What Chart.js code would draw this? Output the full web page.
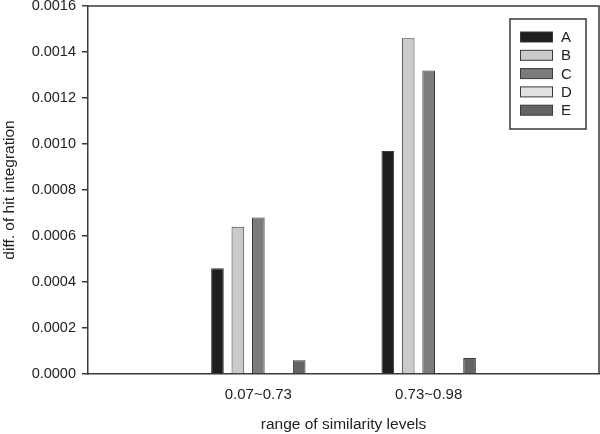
<!DOCTYPE html>
<html>
<head>
<meta charset="utf-8">
<script src="https://cdn.jsdelivr.net/npm/chart.js@4"></script>
<style>
  html, body { margin: 0; padding: 0; background: #fff; }
  #box { width: 600px; height: 434px; }
</style>
</head>
<body>
<div id="box"><canvas id="grafico"></canvas></div>
<script>
// categorias do eixo x (as pontas vazias so servem para abrir espaco)
const categorias = ['', '0.07~0.73', '0.73~0.98', '']
const series = ['A', 'B', 'C', 'D', 'E']
const valoresA = [null, 0.00046, 0.00097, null]
const valoresB = [null, 0.00064, 0.00146, null]
const valoresC = [null, 0.00068, 0.00132, null]
const valoresD = [null, 0, 0, null]
const valoresE = [null, 0.00006, 0.00007, null]
const cores = ['#1f1d1e', '#c8cacc', '#7a7b7d', '#e0e1e2', '#636466']

const corLinha = '#3a3a3a'
const fonte = 'Liberation Sans, Arial, sans-serif'

const todos = [valoresA, valoresB, valoresC, valoresD, valoresE]
const datasets = series.map(function(nome, i) {
    return {
        label: nome,
        data: todos[i],
        backgroundColor: cores[i],
        borderColor: corLinha,
        borderWidth: 1,
        categoryPercentage: 0.6,
        barPercentage: 0.62
    }
})

// moldura de cima e da direita + legenda com caixa
const extras = {
    id: 'extras',
    afterDraw(chart) {
        const ctx = chart.ctx
        const a = chart.chartArea
        ctx.save()
        ctx.strokeStyle = corLinha
        ctx.lineWidth = 1.5
        ctx.beginPath()
        ctx.moveTo(a.left, a.top)
        ctx.lineTo(a.right, a.top)
        ctx.lineTo(a.right, a.bottom)
        ctx.stroke()

        // legenda
        ctx.strokeRect(510, 19, 76, 110)
        ctx.font = '15px ' + fonte
        ctx.textBaseline = 'middle'
        ctx.textAlign = 'left'
        series.forEach(function(nome, i) {
            const y = 37 + i * 18.3
            ctx.fillStyle = cores[i]
            ctx.fillRect(520, y - 5, 33, 10)
            ctx.lineWidth = 1
            ctx.strokeStyle = corLinha
            ctx.strokeRect(520.5, y - 5, 32, 10)
            ctx.fillStyle = '#222'
            ctx.fillText(nome, 561, y + 1)
        })
        ctx.restore()
    }
}

new Chart(document.getElementById('grafico'), {
    type: 'bar',
    data: { labels: categorias, datasets: datasets },
    options: {
        responsive: true,
        maintainAspectRatio: false,
        animation: false,
        layout: { padding: { top: 6, right: 1, left: 0, bottom: 0 } },
        plugins: { legend: { display: false }, tooltip: { enabled: false } },
        scales: {
            x: {
                offset: false,
                afterFit(scale) {
                    scale.height = 60
                    scale.paddingLeft = 0
                    scale.paddingRight = 0
                },
                grid: { display: false, drawTicks: false },
                border: { display: true, color: corLinha, width: 1.5 },
                ticks: { color: '#222', font: { family: fonte, size: 15 }, padding: 12, maxRotation: 0, autoSkip: false },
                title: {
                    display: true,
                    text: 'range of similarity levels',
                    color: '#222',
                    font: { family: fonte, size: 15.5 },
                    padding: { top: 0, bottom: 0 }
                }
            },
            y: {
                min: 0,
                max: 0.0016,
                afterFit(scale) {
                    scale.width = 88
                    scale.paddingTop = 0
                    scale.paddingBottom = 0
                },
                grid: { drawOnChartArea: false, drawTicks: true, tickLength: 6, color: corLinha, lineWidth: 1.5 },
                border: { display: true, color: corLinha, width: 1.5 },
                ticks: {
                    stepSize: 0.0002,
                    color: '#222',
                    padding: 6,
                    font: { family: fonte, size: 14.5 },
                    callback: function(v) { return v.toFixed(4) }
                },
                title: {
                    display: true,
                    text: 'diff. of hit integration',
                    color: '#222',
                    font: { family: fonte, size: 15.5 },
                    padding: { top: 0, bottom: 0 }
                }
            }
        }
    },
    plugins: [extras]
})
</script>
</body>
</html>
